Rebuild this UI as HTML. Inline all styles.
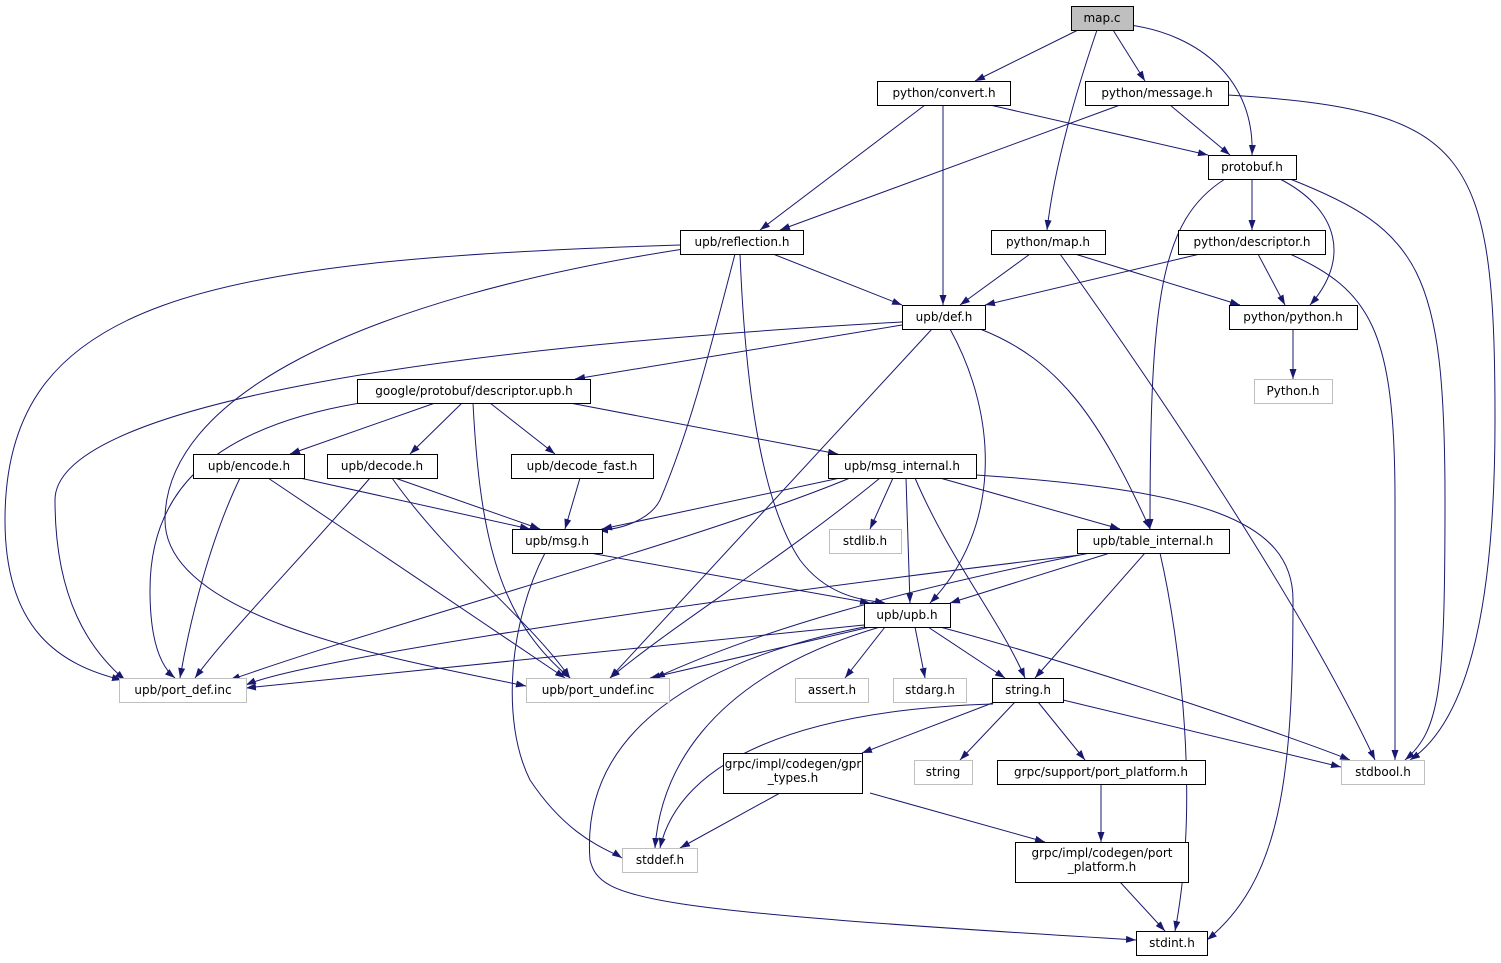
<!DOCTYPE html>
<html><head><meta charset="utf-8"><style>
html,body{margin:0;padding:0;background:#fff}
svg{display:block}
text{font-family:"DejaVu Sans","Liberation Sans",sans-serif;font-size:12px;text-anchor:middle;fill:#000}
.n{fill:#fff;stroke:#000;stroke-width:1}
.g{fill:#fff;stroke:#bfbfbf;stroke-width:1}
.e{fill:none;stroke:#191970;stroke-width:1;marker-end:url(#a)}
</style></head><body>
<svg width="1501" height="963" viewBox="0 0 1501 963">
<defs><marker id="a" viewBox="0 0 10 10" refX="10" refY="5" markerWidth="10" markerHeight="10" markerUnits="userSpaceOnUse" orient="auto"><path d="M0,1.5 L10,5 L0,8.5z" fill="#191970"/></marker></defs>
<g>
<path class="e" d="M1078,30 L975,81"/>
<path class="e" d="M1113,30 L1145,81"/>
<path class="e" d="M1097,30 C1080,80 1055,160 1047,230"/>
<path class="e" d="M1130,25 C1200,35 1255,80 1252,155"/>
<path class="e" d="M925,105 L760,230"/>
<path class="e" d="M943,105 L943,305"/>
<path class="e" d="M990,105 L1208,155"/>
<path class="e" d="M1170,105 L1230,155"/>
<path class="e" d="M1120,105 L780,230"/>
<path class="e" d="M1228,95 C1470,110 1495,150 1495,420 C1495,600 1470,720 1410,760"/>
<path class="e" d="M1252,179 L1252,230"/>
<path class="e" d="M1280,179 C1340,210 1350,260 1310,305"/>
<path class="e" d="M1225,179 C1160,220 1150,300 1150,529"/>
<path class="e" d="M1290,179 C1420,230 1445,270 1445,500 C1445,690 1440,730 1405,760"/>
<path class="e" d="M773,254 L902,305"/>
<path class="e" d="M680,245 C200,260 5,300 5,520 C5,630 60,665 122,680"/>
<path class="e" d="M690,248 C350,300 165,400 165,520 C165,620 400,660 526,686"/>
<path class="e" d="M735,254 C710,350 690,430 660,500 C650,520 620,530 598,530"/>
<path class="e" d="M740,254 C745,380 760,500 800,560 C830,600 870,600 885,603"/>
<path class="e" d="M1030,254 L960,305"/>
<path class="e" d="M1075,254 L1240,305"/>
<path class="e" d="M1060,254 C1150,380 1300,600 1375,760"/>
<path class="e" d="M1200,254 L985,305"/>
<path class="e" d="M1258,254 L1285,305"/>
<path class="e" d="M1290,254 C1370,290 1395,330 1395,500 C1395,650 1395,720 1395,760"/>
<path class="e" d="M902,325 L575,379"/>
<path class="e" d="M902,322 C400,350 55,410 55,500 C55,600 90,650 125,680"/>
<path class="e" d="M932,329 L610,678"/>
<path class="e" d="M950,329 C1000,420 1000,530 930,603"/>
<path class="e" d="M980,329 C1060,360 1100,420 1150,529"/>
<path class="e" d="M1293,329 L1293,379"/>
<path class="e" d="M435,403 L290,454"/>
<path class="e" d="M462,403 L410,454"/>
<path class="e" d="M490,403 L555,454"/>
<path class="e" d="M570,403 L838,454"/>
<path class="e" d="M360,403 C200,430 150,500 150,590 C150,650 165,670 175,678"/>
<path class="e" d="M473,403 C480,540 500,620 570,678"/>
<path class="e" d="M300,478 L530,529"/>
<path class="e" d="M240,478 C210,540 190,620 180,678"/>
<path class="e" d="M268,478 C360,540 480,620 565,678"/>
<path class="e" d="M395,478 L540,529"/>
<path class="e" d="M370,478 C300,560 230,630 195,678"/>
<path class="e" d="M392,478 C450,560 530,620 570,678"/>
<path class="e" d="M580,478 L565,529"/>
<path class="e" d="M840,478 L602,529"/>
<path class="e" d="M893,478 L870,529"/>
<path class="e" d="M906,478 L910,603"/>
<path class="e" d="M940,478 L1120,529"/>
<path class="e" d="M915,478 C950,560 1000,620 1025,678"/>
<path class="e" d="M850,478 C700,540 400,620 230,680"/>
<path class="e" d="M880,478 C780,560 680,620 610,678"/>
<path class="e" d="M976,475 C1200,490 1293,520 1293,600 C1293,780 1280,880 1207,940"/>
<path class="e" d="M590,553 L870,603"/>
<path class="e" d="M545,553 C510,620 500,720 530,780 C570,840 610,850 622,858"/>
<path class="e" d="M1110,553 L950,603"/>
<path class="e" d="M1145,553 L1035,678"/>
<path class="e" d="M1160,553 C1180,640 1200,800 1175,931"/>
<path class="e" d="M1080,555 C700,600 300,660 246,685"/>
<path class="e" d="M1090,553 C900,590 760,630 655,678"/>
<path class="e" d="M864,625 L246,688"/>
<path class="e" d="M870,627 L650,678"/>
<path class="e" d="M885,627 L845,678"/>
<path class="e" d="M915,627 L925,678"/>
<path class="e" d="M928,627 L1005,678"/>
<path class="e" d="M940,627 C1100,670 1300,740 1350,760"/>
<path class="e" d="M880,627 C700,680 660,780 655,848"/>
<path class="e" d="M864,627 C700,660 580,730 590,860 C600,900 640,910 1136,940"/>
<path class="e" d="M1015,702 L960,760"/>
<path class="e" d="M995,702 L862,753"/>
<path class="e" d="M1038,702 L1085,760"/>
<path class="e" d="M1063,700 L1341,767"/>
<path class="e" d="M993,704 C800,710 680,760 660,848"/>
<path class="e" d="M780,793 L680,848"/>
<path class="e" d="M870,793 L1045,842"/>
<path class="e" d="M1101,784 L1101,842"/>
<path class="e" d="M1120,882 L1165,931"/>
</g>
<g>
<rect x="1071.5" y="6.5" width="62" height="24" fill="#bfbfbf" stroke="#000"/><text x="1102" y="22">map.c</text>
<rect class="n" x="877.5" y="81.5" width="133" height="24"/><text x="944" y="97">python/convert.h</text>
<rect class="n" x="1085.5" y="81.5" width="143" height="24"/><text x="1157" y="97">python/message.h</text>
<rect class="n" x="1208.5" y="155.5" width="88" height="24"/><text x="1252" y="171">protobuf.h</text>
<rect class="n" x="680.5" y="230.5" width="123" height="24"/><text x="742" y="246">upb/reflection.h</text>
<rect class="n" x="991.5" y="230.5" width="114" height="24"/><text x="1048" y="246">python/map.h</text>
<rect class="n" x="1178.5" y="230.5" width="147" height="24"/><text x="1252" y="246">python/descriptor.h</text>
<rect class="n" x="902.5" y="305.5" width="83" height="24"/><text x="944" y="321">upb/def.h</text>
<rect class="n" x="1229.5" y="305.5" width="128" height="24"/><text x="1293" y="321">python/python.h</text>
<rect class="g" x="1254.5" y="379.5" width="78" height="24"/><text x="1293" y="395">Python.h</text>
<rect class="n" x="357.5" y="379.5" width="233" height="24"/><text x="474" y="395">google/protobuf/descriptor.upb.h</text>
<rect class="n" x="193.5" y="454.5" width="111" height="24"/><text x="249" y="470">upb/encode.h</text>
<rect class="n" x="327.5" y="454.5" width="110" height="24"/><text x="382" y="470">upb/decode.h</text>
<rect class="n" x="511.5" y="454.5" width="142" height="24"/><text x="582" y="470">upb/decode_fast.h</text>
<rect class="n" x="828.5" y="454.5" width="148" height="24"/><text x="902" y="470">upb/msg_internal.h</text>
<rect class="n" x="512.5" y="529.5" width="90" height="24"/><text x="557" y="545">upb/msg.h</text>
<rect class="g" x="829.5" y="529.5" width="72" height="24"/><text x="865" y="545">stdlib.h</text>
<rect class="n" x="1077.5" y="529.5" width="152" height="24"/><text x="1153" y="545">upb/table_internal.h</text>
<rect class="n" x="864.5" y="603.5" width="86" height="24"/><text x="907" y="619">upb/upb.h</text>
<rect class="g" x="119.5" y="678.5" width="127" height="24"/><text x="183" y="694">upb/port_def.inc</text>
<rect class="g" x="526.5" y="678.5" width="143" height="24"/><text x="598" y="694">upb/port_undef.inc</text>
<rect class="g" x="795.5" y="678.5" width="73" height="24"/><text x="832" y="694">assert.h</text>
<rect class="g" x="893.5" y="678.5" width="73" height="24"/><text x="930" y="694">stdarg.h</text>
<rect class="n" x="992.5" y="678.5" width="71" height="24"/><text x="1028" y="694">string.h</text>
<rect class="g" x="914.5" y="760.5" width="58" height="24"/><text x="943" y="776">string</text>
<rect class="n" x="723.5" y="753.5" width="139" height="40"/><text x="793" y="768">grpc/impl/codegen/gpr</text><text x="793" y="782">_types.h</text>
<rect class="n" x="997.5" y="760.5" width="208" height="24"/><text x="1101" y="776">grpc/support/port_platform.h</text>
<rect class="g" x="1341.5" y="760.5" width="83" height="24"/><text x="1383" y="776">stdbool.h</text>
<rect class="g" x="622.5" y="848.5" width="75" height="24"/><text x="660" y="864">stddef.h</text>
<rect class="n" x="1015.5" y="842.5" width="173" height="40"/><text x="1102" y="857">grpc/impl/codegen/port</text><text x="1102" y="871">_platform.h</text>
<rect class="n" x="1136.5" y="931.5" width="71" height="24"/><text x="1172" y="947">stdint.h</text>
</g>
</svg>
</body></html>
